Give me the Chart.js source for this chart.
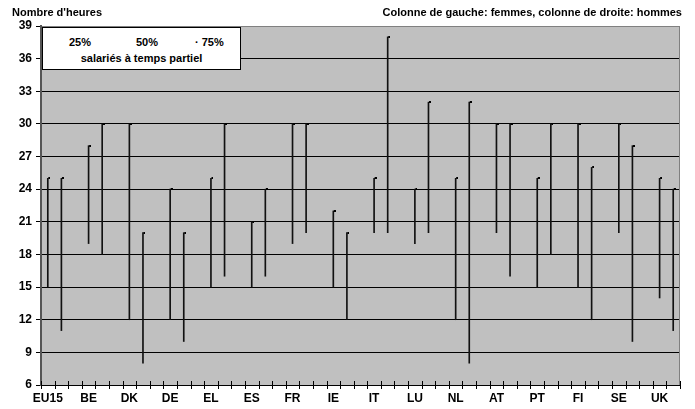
<!DOCTYPE html>
<html>
<head>
<meta charset="utf-8">
<script src="https://cdn.jsdelivr.net/npm/chart.js@4/dist/chart.umd.min.js"></script>
<style>
  html, body { margin: 0; padding: 0; background: #fff; }
  #wrap { position: relative; width: 695px; height: 409px; font-family: "Liberation Sans", Arial, sans-serif; font-weight: bold; font-size: 11px; color: #000; }
  canvas { position: absolute; left: 0; top: 0; }
  .txt { position: absolute; white-space: nowrap; line-height: 13px; }
  #legend { position: absolute; left: 42px; top: 27px; width: 197px; height: 41px; background: #fff; border: 1px solid #000; }
</style>
</head>
<body>
<div id="wrap">
  <canvas id="c" width="695" height="409"></canvas>
  <div class="txt" style="left:12px; top:6px;">Nombre d'heures</div>
  <div class="txt" style="right:13px; top:6px;">Colonne de gauche: femmes, colonne de droite: hommes</div>
  <div id="legend">
    <div class="txt" style="left:26px; top:8px;">25%</div>
    <div class="txt" style="left:93px; top:8px;">50%</div>
    <div class="txt" style="left:152px; top:8px;">· 75%</div>
    <div class="txt" style="left:0; width:197px; text-align:center; top:24px;">salariés à temps partiel</div>
  </div>
</div>
<script>
const countries = ['EU15','BE','DK','DE','EL','ES','FR','IE','IT','LU','NL','AT','PT','FI','SE','UK'];
// women (left column): 25% and 75% quartiles of hours
const women25 = [15,19,12,12,15,15,19,15,20,19,12,20,15,15,20,14];
const women75 = [25,28,30,24,25,21,30,22,25,24,25,30,25,30,30,25];
// men (right column)
const men25   = [11,18, 8,10,16,16,20,12,20,20, 8,16,18,12,10,11];
const men75   = [25,30,20,20,30,24,30,20,38,32,32,30,30,26,28,24];
const yTicks = [6,9,12,15,18,21,24,27,30,33,36,39];

const labels = [], ranges = [], highs = [];
countries.forEach((c, i) => {
  labels.push(c, '', '');
  ranges.push([women25[i], women75[i]], [men25[i], men75[i]], null);
  highs.push(women75[i], men75[i], null);
});
labels.pop(); ranges.pop(); highs.pop();

// small dash marker to the right of the 75% point
const mk = document.createElement('canvas');
mk.width = 5; mk.height = 2;
const mctx = mk.getContext('2d');
mctx.fillStyle = '#000';
mctx.fillRect(3, 0, 2, 2);

const plotBg = {
  id: 'plotBg',
  beforeDraw(chart) {
    const {ctx, chartArea: a} = chart;
    ctx.save();
    ctx.fillStyle = '#c0c0c0';
    ctx.fillRect(a.left, a.top, a.right - a.left, a.bottom - a.top);
    ctx.restore();
  },
  afterDraw(chart) {
    const {ctx, chartArea: a} = chart;
    const xs = chart.scales.x;
    const n = labels.length;
    ctx.save();
    ctx.strokeStyle = '#808080';
    ctx.lineWidth = 1;
    ctx.beginPath();
    ctx.moveTo(Math.round(a.right) - 0.5, a.top);
    ctx.lineTo(Math.round(a.right) - 0.5, a.bottom);
    ctx.stroke();
    ctx.strokeStyle = '#000';
    ctx.beginPath();
    for (let i = 0; i <= n; i++) {
      const x = Math.round(xs.left + i * (xs.right - xs.left) / n) + 0.5;
      ctx.moveTo(x, a.bottom - 4);
      ctx.lineTo(x, a.bottom + 4);
    }
    ctx.stroke();
    ctx.restore();
  }
};

new Chart(document.getElementById('c'), {
  type: 'bar',
  data: {
    labels: labels,
    datasets: [
      {
        type: 'bar',
        label: '25%-75%',
        data: ranges,
        backgroundColor: '#111',
        borderWidth: 0,
        barThickness: 1,
        order: 2
      },
      {
        type: 'line',
        label: '75%',
        data: highs,
        showLine: false,
        pointStyle: mk,
        pointRadius: 2,
        order: 1
      }
    ]
  },
  plugins: [plotBg],
  options: {
    responsive: false,
    animation: false,
    devicePixelRatio: 1,
    layout: { padding: { left: 0, right: 15, top: 26, bottom: 0 } },
    plugins: { legend: { display: false }, tooltip: { enabled: false } },
    scales: {
      x: {
        offset: true,
        afterFit: s => { s.height = 24; },
        grid: { display: true, drawOnChartArea: false, drawTicks: false },
        border: { display: true, color: '#000', width: 1 },
        ticks: {
          autoSkip: false, maxRotation: 0, minRotation: 0, padding: 6,
          color: '#000',
          font: { family: '"Liberation Sans", Arial, sans-serif', size: 12, weight: 'bold' }
        }
      },
      y: {
        min: 6, max: 39,
        afterFit: s => { s.width = 41; },
        afterBuildTicks: s => { s.ticks = yTicks.map(v => ({ value: v })); },
        grid: {
          color: ctx => (ctx.tick && ctx.tick.value === 39) ? '#808080' : '#000',
          tickColor: '#000',
          tickLength: 5,
          lineWidth: 1
        },
        border: { display: true, color: '#555', width: 2 },
        ticks: {
          stepSize: 3, padding: 4, color: '#000',
          font: { family: '"Liberation Sans", Arial, sans-serif', size: 12, weight: 'bold' }
        }
      }
    }
  }
});
</script>
</body>
</html>
